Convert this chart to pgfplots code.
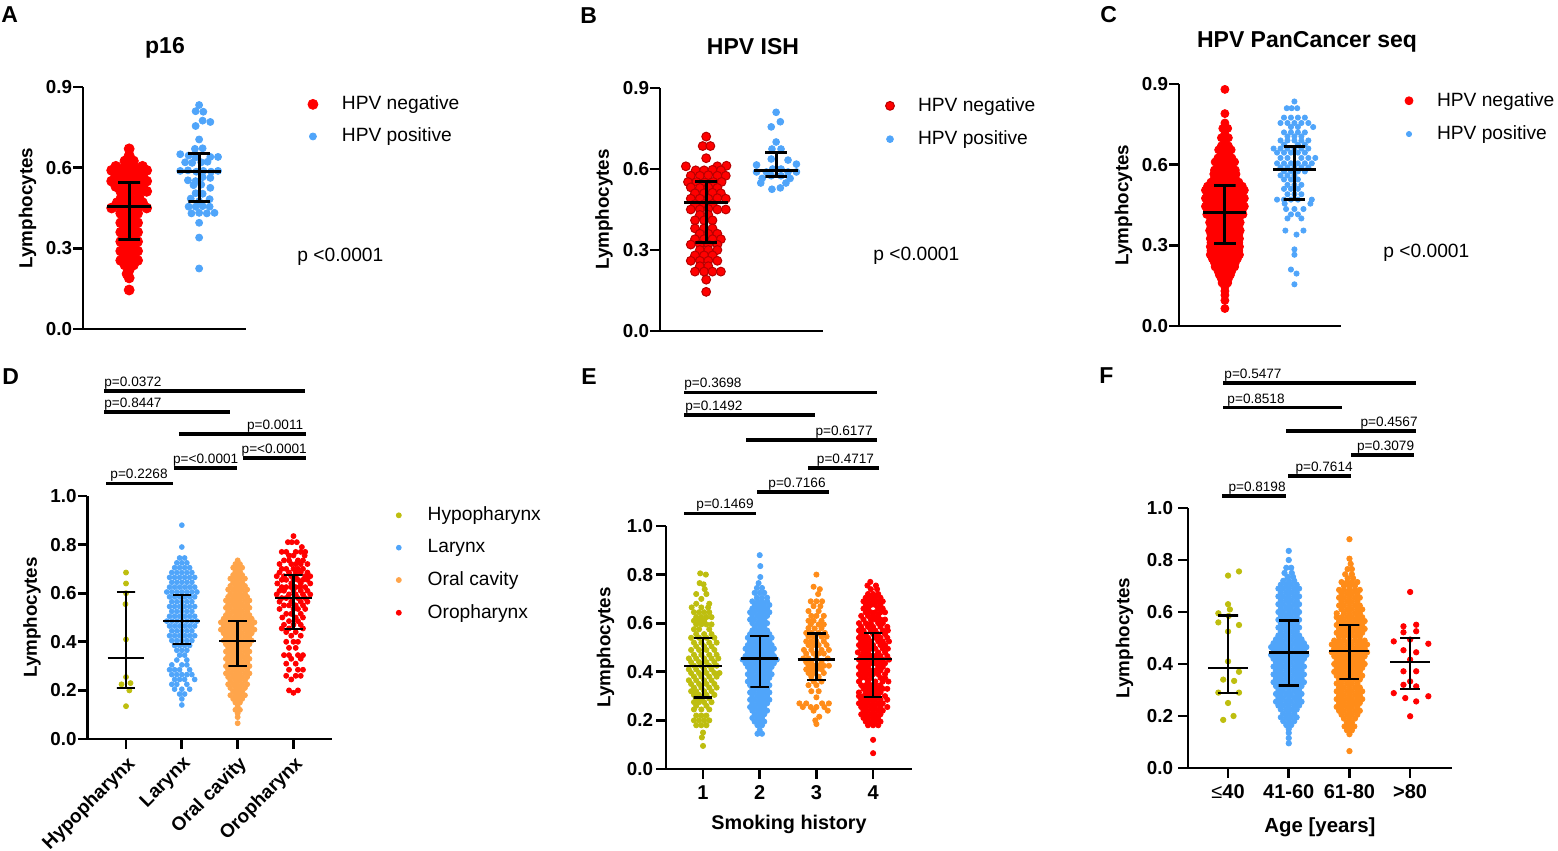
\documentclass[border=0pt]{standalone}
\usepackage{fontspec}
\setmainfont{Liberation Sans}
\usepackage{pgfplots}
\pgfplotsset{compat=1.18}
\definecolor{gpred}{RGB}{255,0,0}
\definecolor{gpblue}{RGB}{80,165,250}
\definecolor{gpolive}{RGB}{190,190,15}
\definecolor{gporange}{RGB}{255,140,25}
\definecolor{gporangeL}{RGB}{255,165,75}
\newcommand{\fs}[1]{\fontsize{#1}{#1}\selectfont}
\pgfplotsset{
 gp/.style={
  scale only axis, clip=false, clip marker paths=true,
  axis x line*=bottom, axis y line*=left,
  axis line style={-, line width=1.35pt},
  tick style={line width=1.35pt, black},
  tick align=outside, major tick length=4.8pt,
  ymin=0,
  yticklabel style={font=\bfseries\fs{9.4}, inner sep=0.5pt},
  xticklabel style={font=\bfseries\fs{9.5}},
  ylabel={Lymphocytes},
  every axis y label/.style={rotate=90, anchor=center, font=\bfseries\fs{9.4}},
  legend style={draw=none, fill=none, inner sep=0pt, outer sep=0pt, font=\fs{9.6}, column sep=12pt, row sep=7pt, nodes={inner sep=0pt}},
  legend cell align=left,
  legend image code/.code={\draw[##1] plot coordinates {(0pt,0pt)};},
 },
 eb/.style={black, line width=1.5pt, forget plot, mark=none},
 ebt/.style={black, line width=1.2pt, forget plot, mark=none},
 sig/.style={black, line width=1.6pt, forget plot, mark=none},
 sc/.style={only marks, mark=*, mark options={draw=none}},
}
\tikzset{pt/.style={inner sep=0pt, font=\fs{6.8}, yshift=0.8pt}}
\begin{document}
\begin{tikzpicture}
\path[use as bounding box] (0,0) rectangle (779pt,425.5pt);
% ---------------- A ----------------
\begin{axis}[gp, at={(41.5pt,261pt)}, anchor=south west, width=81.5pt, height=121pt,
 xmin=0.34, xmax=2.67, ymax=0.9, xtick=\empty, ytick={0,0.3,0.6,0.9}, yticklabels={0.0,0.3,0.6,0.9},
 ylabel style={at={(axis description cs:-0.3405,0.5)}},
 legend style={at={(1.38,0.862)}, anchor=west, column sep=12pt, row sep=7.6pt}]
\addplot[sc, color=gpred, mark size=2.5pt] coordinates {(1,.67)(1,.645)(.94,.625)(1.06,.625)(.81,.605)(.94,.605)(1.06,.605)(1.19,.605)(.75,.59)(.88,.59)(1,.59)(1.12,.59)(1.25,.59)(.81,.57)(.94,.57)(1.06,.57)(1.19,.57)(.75,.55)(.88,.55)(1,.55)(1.12,.55)(1.25,.55)(.81,.53)(.94,.53)(1.06,.53)(1.19,.53)(.88,.512)(1,.512)(1.12,.512)(1.25,.512)(.89,.49)(1.01,.49)(1.14,.49)(.83,.47)(.95,.47)(1.07,.47)(1.19,.47)(.75,.45)(.88,.45)(1,.45)(1.12,.45)(1.25,.45)(.88,.43)(1,.43)(1.12,.43)(.94,.412)(1.06,.412)(.88,.395)(1,.395)(1.12,.395)(.94,.378)(1.06,.378)(.88,.36)(1,.36)(1.12,.36)(.94,.342)(1.06,.342)(.88,.325)(1,.325)(1.12,.325)(.94,.308)(1.06,.308)(.88,.29)(1,.29)(1.12,.29)(.94,.272)(1.06,.272)(.88,.255)(1,.255)(1.12,.255)(.94,.238)(1.06,.238)(1,.22)(.97,.205)(1,.19)(1,.145)};
\addlegendentry{HPV negative}
\addplot[sc, color=gpblue, mark size=1.75pt] coordinates {(2,.833)(1.95,.81)(2.06,.808)(2.05,.775)(2.16,.77)(1.95,.755)(2,.705)(1.94,.67)(2.05,.672)(1.73,.65)(1.85,.645)(1.95,.638)(2.16,.64)(2.27,.64)(1.8,.62)(1.9,.618)(2.03,.62)(2.12,.622)(1.73,.588)(1.84,.59)(1.96,.585)(2.06,.588)(2.17,.585)(2.27,.588)(2.05,.565)(2.16,.562)(1.84,.553)(1.95,.55)(1.92,.535)(2.03,.537)(2.16,.525)(1.95,.505)(2.05,.503)(1.88,.485)(2.15,.483)(2,.475)(1.85,.455)(1.95,.455)(2.05,.457)(2.15,.455)(1.89,.43)(2,.432)(2.11,.43)(2.22,.432)(2,.395)(2,.34)(2,.225)};
\addlegendentry{HPV positive}
\addplot[eb] coordinates {(.69,.456)(1.31,.456)};
\addplot[eb] coordinates {(.845,.544)(1.155,.544)(1,.544)(1,.333)(.845,.333)(1.155,.333)};
\addplot[eb] coordinates {(1.69,.585)(2.31,.585)};
\addplot[eb] coordinates {(1.845,.652)(2.155,.652)(2,.652)(2,.474)(1.845,.474)(2.155,.474)};
\end{axis}
% ---------------- B ----------------
\begin{axis}[gp, at={(330pt,260pt)}, anchor=south west, width=81.5pt, height=121.5pt,
 xmin=0.34, xmax=2.67, ymax=0.9, xtick=\empty, ytick={0,0.3,0.6,0.9}, yticklabels={0.0,0.3,0.6,0.9},
 ylabel style={at={(axis description cs:-0.3436,0.5)}},
 legend style={at={(1.384,0.858)}, anchor=west, column sep=11.8pt, row sep=8.2pt}]
\addplot[only marks, mark=*, mark size=2.2pt, color=gpred, mark options={fill=gpred, draw=red!72!black, line width=0.5pt}] coordinates {(1,.72)(.95,.685)(1.06,.685)(1,.64)(.71,.61)(1.16,.61)(1.29,.612)(.85,.595)(.97,.595)(1.09,.597)(1.21,.595)(.78,.575)(.91,.575)(1.03,.577)(1.16,.575)(1.28,.575)(.74,.552)(.86,.552)(.98,.55)(1.1,.552)(1.22,.552)(.78,.532)(.91,.53)(1.03,.532)(1.16,.53)(.84,.51)(.97,.51)(1.09,.512)(1.21,.51)(.78,.49)(.91,.49)(1.03,.49)(1.16,.492)(1.28,.49)(.84,.47)(.97,.47)(1.09,.47)(.78,.45)(.91,.45)(1.03,.452)(1.16,.45)(1.28,.45)(.91,.43)(1.03,.43)(.84,.41)(.97,.41)(1.09,.41)(.84,.38)(.97,.38)(1.09,.38)(.91,.36)(1.03,.36)(1.16,.36)(.84,.34)(.97,.34)(1.09,.34)(1.21,.34)(.78,.32)(.91,.32)(1.03,.32)(1.16,.32)(.91,.30)(1.03,.30)(1.16,.30)(.84,.28)(.97,.28)(1.09,.28)(.78,.26)(.91,.26)(1.03,.26)(1.16,.26)(.91,.24)(1.03,.24)(.84,.22)(.97,.22)(1.09,.22)(1.21,.22)(1,.19)(1,.145)};
\addlegendentry{HPV negative}
\addplot[sc, color=gpblue, mark size=1.7pt] coordinates {(2,.81)(2.06,.775)(1.93,.756)(2,.70)(1.94,.674)(2.07,.674)(1.93,.637)(2.17,.633)(1.72,.615)(2.29,.618)(1.72,.589)(1.86,.589)(2.17,.589)(2.29,.589)(1.95,.60)(2.07,.60)(1.93,.575)(2.07,.575)(1.8,.565)(2.2,.565)(1.78,.548)(2.14,.548)(1.94,.525)(2.06,.53)};
\addlegendentry{HPV positive}
\addplot[eb] coordinates {(.69,.476)(1.31,.476)};
\addplot[eb] coordinates {(.845,.553)(1.155,.553)(1,.553)(1,.328)(.845,.328)(1.155,.328)};
\addplot[eb] coordinates {(1.69,.594)(2.31,.594)};
\addplot[eb] coordinates {(1.845,.66)(2.155,.66)(2,.66)(2,.572)(1.845,.572)(2.155,.572)};
\end{axis}
% ---------------- C ----------------
\begin{axis}[gp, at={(589.5pt,262.5pt)}, anchor=south west, width=81pt, height=121pt,
 xmin=0.34, xmax=2.67, ymax=0.9, xtick=\empty, ytick={0,0.3,0.6,0.9}, yticklabels={0.0,0.3,0.6,0.9},
 ylabel style={at={(axis description cs:-0.3426,0.5)}},
 legend style={at={(1.395,0.862)}, anchor=west, column sep=12pt, row sep=8.2pt}]
\addplot[sc, color=gpred, mark size=2pt] coordinates {(1,.88)(1,.79)(1,.755)(.97,.735)(1.04,.735)(1,.715)(.95,.70)(1.05,.70)(1,.685)(.95,.67)(1.05,.67)(.91,.655)(1,.655)(1.09,.655)(.95,.64)(1.05,.64)(.9,.625)(1,.625)(1.1,.625)(.86,.61)(.95,.61)(1.05,.61)(1.14,.61)(.9,.595)(1,.595)(1.1,.595)(.85,.58)(.95,.58)(1.05,.58)(1.15,.58)(.84,.565)(.92,.565)(1,.565)(1.08,.565)(1.16,.565)(.85,.55)(.95,.55)(1.05,.55)(1.15,.55)(.8,.535)(.9,.535)(1,.535)(1.1,.535)(1.2,.535)(.75,.52)(.85,.52)(.95,.52)(1.05,.52)(1.15,.52)(1.25,.52)(.72,.505)(.81,.505)(.9,.505)(1,.505)(1.1,.505)(1.19,.505)(1.28,.505)(.75,.49)(.85,.49)(.95,.49)(1.05,.49)(1.15,.49)(1.25,.49)(.72,.475)(.81,.475)(.9,.475)(1,.475)(1.1,.475)(1.19,.475)(1.28,.475)(.75,.46)(.85,.46)(.95,.46)(1.05,.46)(1.15,.46)(1.25,.46)(.72,.445)(.81,.445)(.9,.445)(1,.445)(1.1,.445)(1.19,.445)(1.28,.445)(.75,.43)(.85,.43)(.95,.43)(1.05,.43)(1.15,.43)(1.25,.43)(.74,.415)(.83,.415)(.91,.415)(1,.415)(1.09,.415)(1.17,.415)(1.26,.415)(.8,.40)(.9,.40)(1,.40)(1.1,.40)(1.2,.40)(.78,.385)(.87,.385)(.95,.385)(1.05,.385)(1.13,.385)(1.22,.385)(.8,.37)(.9,.37)(1,.37)(1.1,.37)(1.2,.37)(.78,.355)(.87,.355)(.95,.355)(1.05,.355)(1.13,.355)(1.22,.355)(.8,.34)(.9,.34)(1,.34)(1.1,.34)(1.2,.34)(.79,.325)(.87,.325)(.95,.325)(1.05,.325)(1.13,.325)(1.21,.325)(.8,.31)(.9,.31)(1,.31)(1.1,.31)(1.2,.31)(.79,.295)(.87,.295)(.95,.295)(1.05,.295)(1.13,.295)(1.21,.295)(.8,.28)(.9,.28)(1,.28)(1.1,.28)(1.2,.28)(.79,.265)(.87,.265)(.95,.265)(1.05,.265)(1.13,.265)(1.21,.265)(.82,.25)(.91,.25)(1,.25)(1.09,.25)(1.18,.25)(.85,.235)(.95,.235)(1.05,.235)(1.15,.235)(.86,.22)(.95,.22)(1.05,.22)(1.14,.22)(.9,.205)(1,.205)(1.1,.205)(.92,.19)(1,.19)(1.08,.19)(.95,.175)(1.05,.175)(.96,.16)(1.04,.16)(1,.145)(1,.13)(1,.115)(1,.095)(1,.065)};
\addlegendentry{HPV negative}
\addplot[sc, color=gpblue, mark size=1.3pt] coordinates {(2,.835)(1.89,.81)(1.96,.81)(2.04,.81)(1.85,.775)(1.95,.775)(2.05,.775)(2.15,.775)(1.8,.755)(1.9,.755)(2,.755)(2.1,.755)(2.2,.755)(1.95,.74)(2.05,.74)(2.27,.74)(1.85,.72)(1.95,.72)(2.05,.72)(2.15,.72)(1.9,.705)(2,.705)(2.1,.705)(1.8,.69)(1.9,.69)(2,.69)(2.1,.69)(2.2,.69)(1.85,.675)(2.05,.675)(2.15,.675)(1.7,.66)(1.8,.66)(1.9,.66)(2,.66)(2.1,.66)(2.2,.66)(1.75,.645)(1.85,.645)(1.95,.645)(2.05,.645)(2.15,.645)(1.8,.625)(1.9,.625)(2.1,.625)(2.2,.625)(2.3,.625)(1.75,.605)(1.85,.605)(1.95,.605)(2.05,.605)(2.15,.605)(2.25,.605)(1.8,.59)(1.9,.59)(2,.59)(2.1,.59)(2.2,.59)(1.85,.575)(1.95,.575)(2.05,.575)(2.15,.575)(1.8,.56)(1.9,.56)(2,.56)(1.85,.545)(1.95,.545)(2.05,.545)(1.9,.525)(2,.525)(2.1,.525)(1.85,.51)(1.95,.51)(2.05,.51)(1.9,.49)(2,.49)(2.1,.49)(1.75,.47)(1.85,.47)(1.95,.47)(2.05,.47)(2.25,.47)(1.86,.455)(2.23,.455)(1.88,.435)(2,.435)(2.13,.435)(1.95,.415)(2.05,.415)(1.9,.40)(2.1,.40)(1.87,.355)(2.13,.355)(2.03,.34)(2,.285)(2,.265)(1.95,.21)(2.03,.195)(2,.155)};
\addlegendentry{HPV positive}
\addplot[eb] coordinates {(.69,.422)(1.31,.422)};
\addplot[eb] coordinates {(.845,.522)(1.155,.522)(1,.522)(1,.307)(.845,.307)(1.155,.307)};
\addplot[eb] coordinates {(1.69,.581)(2.31,.581)};
\addplot[eb] coordinates {(1.845,.667)(2.155,.667)(2,.667)(2,.47)(1.845,.47)(2.155,.47)};
\end{axis}
% ---------------- D ----------------
\begin{axis}[gp, at={(43.75pt,56pt)}, anchor=south west, width=122.25pt, height=121.5pt,
 xmin=0.31, xmax=4.69, ymax=1, xtick={1,2,3,4}, xticklabels={Hypopharynx,Larynx,Oral cavity,Oropharynx},
 xticklabel style={rotate=45, anchor=north east, inner sep=2pt},
 ytick={0,0.2,0.4,0.6,0.8,1}, yticklabels={0.0,0.2,0.4,0.6,0.8,1.0},
 ylabel style={at={(axis description cs:-0.227,0.5)}},
 legend style={at={(1.263,0.720)}, anchor=west, column sep=13.2pt, row sep=7.9pt}]
\addplot[sc, color=gpolive, mark size=1.25pt] coordinates {(1,.685)(1,.64)(1,.60)(.99,.555)(1,.41)(1,.255)(.92,.225)(1.08,.23)(1.06,.20)(1,.135)};
\addlegendentry{Hypopharynx}
\addplot[sc, color=gpblue, mark size=1.2pt] coordinates {(2,.88)(2,.79)(1.96,.745)(2.05,.745)(1.91,.725)(2,.725)(2.09,.725)(1.87,.705)(1.96,.705)(2.05,.705)(2.14,.705)(1.82,.685)(1.91,.685)(2,.685)(2.09,.685)(2.18,.685)(1.78,.665)(1.87,.665)(1.96,.665)(2.05,.665)(2.14,.665)(2.23,.665)(1.82,.645)(1.91,.645)(2,.645)(2.09,.645)(2.18,.645)(1.78,.625)(1.87,.625)(1.96,.625)(2.05,.625)(2.14,.625)(2.23,.625)(1.73,.605)(1.82,.605)(1.91,.605)(2,.605)(2.09,.605)(2.18,.605)(2.27,.605)(1.78,.585)(1.87,.585)(1.96,.585)(2.05,.585)(2.14,.585)(2.23,.585)(1.82,.565)(1.91,.565)(2,.565)(2.09,.565)(2.18,.565)(1.78,.545)(1.87,.545)(1.96,.545)(2.05,.545)(2.14,.545)(2.23,.545)(1.82,.525)(1.91,.525)(2,.525)(2.09,.525)(2.18,.525)(1.78,.505)(1.87,.505)(1.96,.505)(2.05,.505)(2.14,.505)(2.23,.505)(1.73,.485)(1.82,.485)(1.91,.485)(2,.485)(2.09,.485)(2.18,.485)(2.27,.485)(1.78,.465)(1.87,.465)(1.96,.465)(2.05,.465)(2.14,.465)(2.23,.465)(1.82,.445)(1.91,.445)(2,.445)(2.09,.445)(2.18,.445)(1.78,.425)(1.87,.425)(1.96,.425)(2.05,.425)(2.14,.425)(2.23,.425)(1.82,.405)(1.91,.405)(2,.405)(2.09,.405)(2.18,.405)(1.87,.385)(1.96,.385)(2.05,.385)(2.14,.385)(1.91,.365)(2,.365)(2.09,.365)(1.96,.345)(2.05,.345)(1.91,.325)(2.09,.325)(1.82,.305)(2,.305)(2.09,.305)(1.78,.285)(1.87,.285)(1.96,.285)(2.14,.285)(1.82,.265)(1.91,.265)(2,.265)(2.09,.265)(2.18,.265)(1.87,.245)(1.96,.245)(2.05,.245)(2.23,.245)(1.82,.225)(1.91,.225)(2.09,.225)(1.87,.205)(2,.205)(2.14,.205)(1.96,.185)(2.05,.185)(2,.165)(2,.14)};
\addlegendentry{Larynx}
\addplot[sc, color=gporangeL, mark size=1.25pt] coordinates {(3,.735)(2.96,.72)(3.04,.72)(2.92,.705)(3,.705)(3.08,.705)(2.96,.69)(3.04,.69)(2.92,.675)(3,.675)(3.08,.675)(2.87,.66)(2.96,.66)(3.04,.66)(3.13,.66)(2.92,.645)(3,.645)(3.08,.645)(2.87,.63)(2.96,.63)(3.04,.63)(3.13,.63)(2.83,.615)(2.92,.615)(3,.615)(3.08,.615)(3.17,.615)(2.87,.60)(2.96,.60)(3.04,.60)(3.13,.60)(2.83,.585)(2.92,.585)(3,.585)(3.08,.585)(3.17,.585)(2.79,.57)(2.87,.57)(2.96,.57)(3.04,.57)(3.13,.57)(3.21,.57)(2.83,.555)(2.92,.555)(3,.555)(3.08,.555)(3.17,.555)(2.79,.54)(2.87,.54)(2.96,.54)(3.04,.54)(3.13,.54)(3.21,.54)(2.83,.525)(2.92,.525)(3,.525)(3.08,.525)(3.17,.525)(2.79,.51)(2.87,.51)(2.96,.51)(3.04,.51)(3.13,.51)(3.21,.51)(2.75,.495)(2.83,.495)(2.92,.495)(3,.495)(3.08,.495)(3.17,.495)(3.25,.495)(2.7,.48)(2.79,.48)(2.87,.48)(2.96,.48)(3.04,.48)(3.13,.48)(3.21,.48)(3.3,.48)(2.75,.465)(2.83,.465)(2.92,.465)(3,.465)(3.08,.465)(3.17,.465)(3.25,.465)(2.7,.45)(2.79,.45)(2.87,.45)(2.96,.45)(3.04,.45)(3.13,.45)(3.21,.45)(3.3,.45)(2.75,.435)(2.83,.435)(2.92,.435)(3,.435)(3.08,.435)(3.17,.435)(3.25,.435)(2.79,.42)(2.87,.42)(2.96,.42)(3.04,.42)(3.13,.42)(3.21,.42)(2.75,.405)(2.83,.405)(2.92,.405)(3,.405)(3.08,.405)(3.17,.405)(3.25,.405)(2.79,.39)(2.87,.39)(2.96,.39)(3.04,.39)(3.13,.39)(3.21,.39)(2.83,.375)(2.92,.375)(3,.375)(3.08,.375)(3.17,.375)(2.79,.36)(2.87,.36)(2.96,.36)(3.04,.36)(3.13,.36)(3.21,.36)(2.83,.345)(2.92,.345)(3,.345)(3.08,.345)(3.17,.345)(2.79,.33)(2.87,.33)(2.96,.33)(3.04,.33)(3.13,.33)(3.21,.33)(2.83,.315)(2.92,.315)(3,.315)(3.08,.315)(3.17,.315)(2.79,.30)(2.87,.30)(2.96,.30)(3.04,.30)(3.13,.30)(3.21,.30)(2.83,.285)(2.92,.285)(3,.285)(3.08,.285)(3.17,.285)(2.79,.27)(2.87,.27)(2.96,.27)(3.04,.27)(3.13,.27)(3.21,.27)(2.83,.255)(2.92,.255)(3,.255)(3.08,.255)(3.17,.255)(2.87,.24)(2.96,.24)(3.04,.24)(3.13,.24)(2.83,.225)(2.92,.225)(3,.225)(3.08,.225)(3.17,.225)(2.87,.21)(2.96,.21)(3.04,.21)(3.13,.21)(2.92,.195)(3,.195)(3.08,.195)(2.87,.18)(2.96,.18)(3.04,.18)(3.13,.18)(2.92,.165)(3,.165)(3.08,.165)(2.96,.15)(3.04,.15)(3,.135)(2.96,.12)(3.04,.12)(3,.105)(3,.09)(3,.065)};
\addlegendentry{Oral cavity}
\addplot[sc, color=gpred, mark size=1.25pt] coordinates {(4,.835)(3.9,.81)(3.97,.81)(4.06,.81)(4.15,.79)(3.79,.77)(3.87,.77)(4.04,.77)(4.13,.77)(4.21,.77)(3.92,.755)(4,.755)(4.2,.755)(3.83,.735)(3.92,.735)(4.08,.735)(4.17,.735)(3.75,.72)(3.96,.72)(4.04,.72)(4.13,.72)(4.25,.72)(3.79,.70)(3.87,.70)(4,.70)(4.08,.70)(4.17,.70)(3.75,.685)(3.92,.685)(4.04,.685)(4.13,.685)(4.25,.685)(3.7,.67)(3.83,.67)(3.96,.67)(4.04,.67)(4.21,.67)(4.3,.67)(3.79,.655)(3.87,.655)(4,.655)(4.08,.655)(4.17,.655)(4.25,.655)(3.71,.64)(3.96,.64)(4.13,.64)(4.3,.64)(3.79,.625)(3.87,.625)(3.96,.625)(4.04,.625)(4.12,.625)(4.21,.625)(3.75,.61)(3.83,.61)(4,.61)(4.13,.61)(4.25,.61)(3.7,.595)(3.92,.595)(4.04,.595)(4.17,.595)(4.3,.595)(3.79,.58)(3.87,.58)(4.08,.58)(4.21,.58)(3.75,.565)(3.96,.565)(4.13,.565)(4.25,.565)(3.83,.55)(3.92,.55)(4.04,.55)(4.17,.55)(3.75,.535)(4,.535)(4.08,.535)(4.21,.535)(3.87,.515)(3.96,.515)(4.13,.515)(3.8,.50)(4.04,.50)(4.17,.50)(3.92,.485)(4.08,.485)(3.83,.47)(4,.47)(4.13,.47)(3.79,.455)(3.92,.455)(4.17,.455)(3.87,.44)(4.04,.44)(3.96,.425)(4.13,.425)(3.87,.40)(4,.40)(4.08,.40)(3.92,.375)(4.04,.375)(3.83,.345)(3.92,.345)(4.08,.345)(4.17,.345)(3.96,.33)(4.13,.33)(3.87,.31)(4.04,.31)(3.92,.285)(4.08,.285)(4.17,.285)(3.87,.26)(4.04,.26)(4.13,.26)(3.96,.245)(3.92,.20)(4.08,.20)(4,.19)};
\addlegendentry{Oropharynx}
\addplot[ebt] coordinates {(.67,.333)(1.33,.333)};
\addplot[ebt] coordinates {(.835,.605)(1.165,.605)(1,.605)(1,.21)(.835,.21)(1.165,.21)};
\addplot[ebt] coordinates {(1.67,.486)(2.33,.486)};
\addplot[ebt] coordinates {(1.835,.593)(2.165,.593)(2,.593)(2,.391)(1.835,.391)(2.165,.391)};
\addplot[ebt] coordinates {(2.67,.403)(3.33,.403)};
\addplot[ebt] coordinates {(2.835,.486)(3.165,.486)(3,.486)(3,.30)(2.835,.30)(3.165,.30)};
\addplot[ebt] coordinates {(3.67,.58)(4.33,.58)};
\addplot[ebt] coordinates {(3.835,.675)(4.165,.675)(4,.675)(4,.453)(3.835,.453)(4.165,.453)};
\addplot[sig] coordinates {(0.606,1.432)(4.202,1.432)};
\node[pt, anchor=south west] at (axis cs:0.606,1.432) {p=0.0372};
\addplot[sig] coordinates {(0.606,1.346)(2.86,1.346)};
\node[pt, anchor=south west] at (axis cs:0.606,1.346) {p=0.8447};
\addplot[sig] coordinates {(1.948,1.255)(4.22,1.255)};
\node[pt, anchor=south east] at (axis cs:4.18,1.255) {p=0.0011};
\addplot[sig] coordinates {(3.09,1.156)(4.22,1.156)};
\node[pt, anchor=south] at (axis cs:3.655,1.156) {p=<0.0001};
\addplot[sig] coordinates {(1.859,1.115)(2.995,1.115)};
\node[pt, anchor=south] at (axis cs:2.427,1.115) {p=<0.0001};
\addplot[sig] coordinates {(0.642,1.053)(1.841,1.053)};
\node[pt, anchor=south] at (axis cs:1.233,1.053) {p=0.2268};
\end{axis}
% ---------------- E ----------------
\begin{axis}[gp, at={(333pt,41pt)}, anchor=south west, width=123pt, height=121.5pt,
 xmin=0.347, xmax=4.686, ymax=1, xtick={1,2,3,4}, xticklabels={1,2,3,4},
 xticklabel style={font=\bfseries\fs{10}},
 ytick={0,0.2,0.4,0.6,0.8,1}, yticklabels={0.0,0.2,0.4,0.6,0.8,1.0},
 yticklabel style={inner sep=1.5pt},
 ylabel style={at={(axis description cs:-0.246,0.5)}},
 xlabel={Smoking history},
 every axis x label/.style={at={(axis description cs:0.5,0)}, anchor=center, yshift=-27.5pt, font=\bfseries\fs{9.9}}]
\addplot[sc, color=gpolive, mark size=1.3pt] coordinates {(.95,.805)(1.05,.80)(.94,.765)(1.01,.76)(1.03,.74)(.88,.72)(1.06,.72)(.97,.70)(.88,.68)(1.11,.68)(.8,.665)(.97,.665)(1.09,.665)(.84,.645)(.93,.645)(1.02,.645)(1.11,.645)(.88,.625)(.97,.625)(1.06,.625)(1.15,.625)(.84,.61)(.93,.61)(1.02,.61)(.88,.595)(.97,.595)(1.06,.595)(1.15,.595)(.84,.575)(.93,.575)(1.11,.575)(.88,.555)(1.02,.555)(1.15,.555)(.79,.54)(.93,.54)(1.06,.54)(1.2,.54)(.84,.52)(.97,.52)(1.11,.52)(1.24,.52)(.88,.505)(1.02,.505)(1.15,.505)(.79,.49)(.93,.49)(1.06,.49)(1.2,.49)(.84,.47)(.97,.47)(1.11,.47)(1.24,.47)(.75,.455)(.88,.455)(1.02,.455)(1.15,.455)(1.27,.455)(.79,.44)(.93,.44)(1.06,.44)(1.2,.44)(.84,.425)(.97,.425)(1.11,.425)(1.24,.425)(.75,.41)(.88,.41)(1.02,.41)(1.15,.41)(.79,.395)(.93,.395)(1.06,.395)(1.2,.395)(1.29,.395)(.84,.38)(.97,.38)(1.11,.38)(1.24,.38)(.75,.365)(.88,.365)(1.02,.365)(1.15,.365)(.79,.35)(.93,.35)(1.06,.35)(1.2,.35)(.84,.335)(.97,.335)(1.11,.335)(1.24,.335)(.79,.32)(.88,.32)(1.02,.32)(1.15,.32)(.84,.305)(.93,.305)(1.06,.305)(1.2,.305)(.88,.29)(.97,.29)(1.11,.29)(.84,.275)(.93,.275)(1.02,.275)(1.15,.275)(.88,.26)(1.06,.26)(.84,.245)(.97,.245)(1.11,.245)(.88,.22)(.97,.22)(1.06,.22)(.84,.2)(.93,.2)(1.02,.2)(1.11,.2)(.88,.18)(.97,.18)(1.06,.18)(1,.15)(.98,.13)(1,.095)};
\addplot[sc, color=gpblue, mark size=1.3pt] coordinates {(2,.88)(2.01,.835)(2.01,.79)(1.98,.765)(1.95,.745)(2.04,.745)(1.91,.725)(2,.725)(2.08,.725)(1.95,.705)(2.04,.705)(2.13,.705)(1.87,.69)(1.96,.69)(2.04,.69)(2.13,.69)(1.91,.675)(2,.675)(2.08,.675)(2.17,.675)(1.87,.66)(1.96,.66)(2.04,.66)(2.13,.66)(1.83,.645)(1.91,.645)(2,.645)(2.08,.645)(2.17,.645)(1.87,.63)(1.96,.63)(2.04,.63)(2.13,.63)(1.83,.615)(1.91,.615)(2,.615)(2.08,.615)(1.87,.60)(1.96,.60)(2.04,.60)(2.13,.60)(1.91,.585)(2,.585)(2.08,.585)(1.87,.57)(1.96,.57)(2.04,.57)(2.13,.57)(1.83,.555)(1.91,.555)(2,.555)(2.08,.555)(2.17,.555)(1.79,.54)(1.87,.54)(1.96,.54)(2.04,.54)(2.13,.54)(2.21,.54)(1.83,.525)(1.91,.525)(2,.525)(2.08,.525)(2.17,.525)(1.79,.51)(1.87,.51)(1.96,.51)(2.04,.51)(2.13,.51)(2.21,.51)(1.75,.495)(1.83,.495)(1.91,.495)(2,.495)(2.08,.495)(2.17,.495)(2.25,.495)(1.79,.48)(1.87,.48)(1.96,.48)(2.04,.48)(2.13,.48)(2.21,.48)(1.75,.465)(1.83,.465)(1.91,.465)(2,.465)(2.08,.465)(2.17,.465)(2.25,.465)(1.7,.45)(1.79,.45)(1.87,.45)(1.96,.45)(2.04,.45)(2.13,.45)(2.21,.45)(2.3,.45)(1.75,.435)(1.83,.435)(1.91,.435)(2,.435)(2.08,.435)(2.17,.435)(2.25,.435)(1.79,.42)(1.87,.42)(1.96,.42)(2.04,.42)(2.13,.42)(2.21,.42)(1.83,.405)(1.91,.405)(2,.405)(2.08,.405)(2.17,.405)(1.79,.39)(1.87,.39)(1.96,.39)(2.04,.39)(2.13,.39)(2.21,.39)(1.83,.375)(1.91,.375)(2,.375)(2.08,.375)(2.17,.375)(1.79,.36)(1.87,.36)(1.96,.36)(2.04,.36)(2.13,.36)(1.83,.345)(1.91,.345)(2,.345)(2.08,.345)(2.17,.345)(1.87,.33)(1.96,.33)(2.04,.33)(2.13,.33)(1.83,.315)(1.91,.315)(2,.315)(2.08,.315)(2.17,.315)(1.87,.30)(1.96,.30)(2.04,.30)(2.13,.30)(1.83,.285)(1.91,.285)(2,.285)(2.08,.285)(2.17,.285)(1.87,.27)(1.96,.27)(2.04,.27)(2.13,.27)(1.83,.255)(1.91,.255)(2,.255)(2.08,.255)(1.87,.24)(1.96,.24)(2.04,.24)(2.13,.24)(1.91,.225)(2,.225)(2.08,.225)(1.87,.21)(1.96,.21)(2.04,.21)(1.91,.195)(2,.195)(2.08,.195)(1.96,.18)(2.04,.18)(2,.16)(1.96,.145)(2.04,.145)};
\addplot[sc, color=gporange, mark size=1.3pt] coordinates {(3,.80)(2.95,.75)(3.06,.74)(3.03,.72)(2.9,.69)(3,.69)(3.1,.69)(2.95,.67)(3.07,.67)(2.86,.65)(3.04,.65)(2.91,.63)(3,.63)(3.13,.63)(2.86,.61)(2.95,.61)(3.09,.61)(2.9,.595)(3.04,.595)(3.13,.595)(2.86,.58)(2.97,.578)(3.09,.58)(2.82,.56)(2.91,.56)(3.04,.56)(3.15,.56)(2.86,.545)(2.95,.545)(3.09,.545)(3.18,.545)(2.82,.525)(2.91,.525)(3,.525)(3.13,.525)(2.86,.51)(2.95,.51)(3.04,.51)(3.18,.51)(2.78,.49)(2.91,.49)(3.09,.49)(3.22,.49)(2.82,.475)(2.95,.475)(3.04,.475)(3.13,.475)(2.77,.455)(2.86,.455)(3,.455)(3.2,.455)(2.82,.44)(2.91,.44)(3.09,.44)(2.86,.425)(2.95,.425)(3.04,.425)(3.13,.425)(3.22,.425)(2.82,.41)(2.91,.41)(3,.41)(3.09,.41)(2.86,.395)(2.95,.395)(3.13,.395)(2.91,.38)(3.04,.38)(2.95,.36)(3.09,.36)(2.86,.345)(3,.345)(2.91,.32)(3.04,.32)(3,.295)(2.7,.27)(2.82,.27)(3.1,.27)(3.22,.27)(2.76,.255)(2.9,.255)(3,.255)(3.14,.255)(2.95,.24)(3.2,.24)(3.05,.215)(2.98,.20)(3,.185)};
\addplot[sc, color=gpred, mark size=1.3pt] coordinates {(3.95,.77)(3.9,.755)(4.05,.755)(3.96,.74)(4.07,.74)(3.91,.72)(4,.72)(4.09,.72)(3.87,.705)(3.96,.705)(4.04,.705)(4.13,.705)(3.83,.69)(3.91,.69)(4,.69)(4.09,.69)(4.17,.69)(3.87,.675)(3.96,.675)(4.04,.675)(4.13,.675)(3.83,.66)(3.91,.66)(4.09,.66)(4.17,.66)(3.87,.645)(3.96,.645)(4.04,.645)(4.13,.645)(4.21,.645)(3.79,.63)(3.91,.63)(4,.63)(4.09,.63)(3.83,.615)(3.96,.615)(4.04,.615)(4.13,.615)(4.21,.615)(3.75,.60)(3.87,.60)(3.96,.60)(4.09,.60)(4.17,.60)(3.79,.585)(3.91,.585)(4,.585)(4.13,.585)(4.25,.585)(3.75,.57)(3.83,.57)(3.96,.57)(4.04,.57)(4.17,.57)(4.26,.57)(3.79,.555)(3.87,.555)(4,.555)(4.09,.555)(4.21,.555)(3.75,.54)(3.83,.54)(3.91,.54)(4.04,.54)(4.13,.54)(4.25,.54)(3.79,.525)(3.87,.525)(3.96,.525)(4.09,.525)(4.17,.525)(4.28,.525)(3.75,.51)(3.83,.51)(3.91,.51)(4,.51)(4.13,.51)(4.21,.51)(3.79,.495)(3.87,.495)(3.96,.495)(4.04,.495)(4.17,.495)(4.26,.495)(3.73,.48)(3.83,.48)(3.91,.48)(4.09,.48)(4.21,.48)(3.79,.465)(3.87,.465)(3.96,.465)(4.04,.465)(4.13,.465)(4.25,.465)(3.75,.45)(3.83,.45)(3.91,.45)(4,.45)(4.09,.45)(4.17,.45)(4.28,.45)(3.79,.435)(3.87,.435)(3.96,.435)(4.04,.435)(4.13,.435)(4.21,.435)(3.75,.42)(3.83,.42)(3.91,.42)(4.09,.42)(4.17,.42)(3.79,.405)(3.87,.405)(3.96,.405)(4.04,.405)(4.13,.405)(4.25,.405)(3.75,.39)(3.83,.39)(3.91,.39)(4,.39)(4.09,.39)(4.21,.39)(3.79,.375)(3.87,.375)(3.96,.375)(4.13,.375)(4.21,.375)(3.75,.36)(3.91,.36)(4.04,.36)(4.17,.36)(4.27,.36)(3.79,.345)(3.87,.345)(3.96,.345)(4.04,.345)(4.13,.345)(3.83,.33)(3.91,.33)(4,.33)(4.09,.33)(4.17,.33)(4.25,.33)(3.75,.315)(3.87,.315)(3.96,.315)(4.04,.315)(4.13,.315)(3.75,.30)(3.83,.30)(3.91,.30)(4,.30)(4.09,.30)(4.21,.30)(3.79,.285)(3.87,.285)(3.96,.285)(4.04,.285)(4.13,.285)(4.25,.285)(3.75,.27)(3.83,.27)(3.91,.27)(4,.27)(4.09,.27)(4.17,.27)(3.79,.255)(3.87,.255)(3.96,.255)(4.04,.255)(4.13,.255)(4.25,.255)(3.83,.24)(3.91,.24)(4,.24)(4.09,.24)(4.17,.24)(3.79,.225)(3.87,.225)(3.96,.225)(4.04,.225)(4.13,.225)(3.83,.21)(3.91,.21)(4,.21)(4.09,.21)(3.87,.195)(3.96,.195)(4.04,.195)(4.13,.195)(3.91,.18)(4,.18)(4.09,.18)(4,.12)(4,.065)};
\addplot[ebt] coordinates {(.67,.425)(1.33,.425)};
\addplot[ebt] coordinates {(.835,.54)(1.165,.54)(1,.54)(1,.295)(.835,.295)(1.165,.295)};
\addplot[ebt] coordinates {(1.67,.455)(2.33,.455)};
\addplot[ebt] coordinates {(1.835,.548)(2.165,.548)(2,.548)(2,.338)(1.835,.338)(2.165,.338)};
\addplot[ebt] coordinates {(2.67,.451)(3.33,.451)};
\addplot[ebt] coordinates {(2.835,.558)(3.165,.558)(3,.558)(3,.366)(2.835,.366)(3.165,.366)};
\addplot[ebt] coordinates {(3.67,.452)(4.33,.452)};
\addplot[ebt] coordinates {(3.835,.56)(4.165,.56)(4,.56)(4,.297)(3.835,.297)(4.165,.297)};
\addplot[sig] coordinates {(0.665,1.551)(4.069,1.551)};
\node[pt, anchor=south west] at (axis cs:0.665,1.551) {p=0.3698};
\addplot[sig] coordinates {(0.665,1.457)(2.975,1.457)};
\node[pt, anchor=south west] at (axis cs:0.68,1.457) {p=0.1492};
\addplot[sig] coordinates {(1.758,1.354)(4.069,1.354)};
\node[pt, anchor=south east] at (axis cs:3.998,1.354) {p=0.6177};
\addplot[sig] coordinates {(2.852,1.239)(4.104,1.239)};
\node[pt, anchor=south] at (axis cs:3.513,1.239) {p=0.4717};
\addplot[sig] coordinates {(1.952,1.14)(3.222,1.14)};
\node[pt, anchor=south] at (axis cs:2.658,1.14) {p=0.7166};
\addplot[sig] coordinates {(0.665,1.053)(1.935,1.053)};
\node[pt, anchor=south] at (axis cs:1.388,1.053) {p=0.1469};
\end{axis}
% ---------------- F ----------------
\begin{axis}[gp, at={(594pt,41.5pt)}, anchor=south west, width=132pt, height=130pt,
 xmin=0.34, xmax=4.69, ymax=1, xtick={1,2,3,4}, xticklabels={{\mdseries ≤}40,41-60,61-80,>80},
 xticklabel style={font=\bfseries\fs{10}},
 ytick={0,0.2,0.4,0.6,0.8,1}, yticklabels={0.0,0.2,0.4,0.6,0.8,1.0},
 yticklabel style={inner sep=2.5pt},
 ylabel style={at={(axis description cs:-0.2405,0.5)}},
 xlabel={Age [years]},
 every axis x label/.style={at={(axis description cs:0.5,0)}, anchor=center, yshift=-29.5pt, font=\bfseries\fs{10.2}}]
\addplot[sc, color=gpolive, mark size=1.35pt] coordinates {(1.18,.756)(1,.74)(1,.63)(1.03,.61)(.84,.595)(1.01,.585)(.84,.56)(1.18,.55)(1,.525)(1,.41)(1.18,.37)(.92,.34)(1.1,.335)(.84,.29)(1.18,.29)(1,.25)(1.09,.2)(.92,.185)};
\addplot[sc, color=gpblue, mark size=1.35pt] coordinates {(2,.835)(2,.80)(1.96,.77)(2.04,.77)(1.93,.75)(2.05,.75)(1.98,.735)(2.07,.735)(1.91,.72)(2,.72)(2.09,.72)(1.87,.705)(1.96,.705)(2.04,.705)(2.13,.705)(1.83,.69)(1.91,.69)(2,.69)(2.09,.69)(2.17,.69)(1.87,.675)(1.96,.675)(2.04,.675)(2.13,.675)(1.83,.66)(1.91,.66)(2,.66)(2.09,.66)(2.17,.66)(1.87,.645)(1.96,.645)(2.04,.645)(2.13,.645)(1.83,.63)(1.91,.63)(2,.63)(2.09,.63)(2.17,.63)(1.87,.615)(1.96,.615)(2.04,.615)(2.13,.615)(1.83,.60)(1.91,.60)(2,.60)(2.09,.60)(2.17,.60)(1.87,.585)(1.96,.585)(2.04,.585)(2.13,.585)(1.83,.57)(1.91,.57)(2,.57)(2.09,.57)(2.17,.57)(1.87,.555)(1.96,.555)(2.04,.555)(2.13,.555)(1.83,.54)(1.91,.54)(2,.54)(2.09,.54)(2.17,.54)(1.87,.525)(1.96,.525)(2.04,.525)(2.13,.525)(1.83,.51)(1.91,.51)(2,.51)(2.09,.51)(2.17,.51)(1.79,.495)(1.87,.495)(1.96,.495)(2.04,.495)(2.13,.495)(2.21,.495)(1.75,.48)(1.83,.48)(1.91,.48)(2,.48)(2.09,.48)(2.17,.48)(2.25,.48)(1.71,.465)(1.79,.465)(1.87,.465)(1.96,.465)(2.04,.465)(2.13,.465)(2.21,.465)(2.29,.465)(1.75,.45)(1.83,.45)(1.91,.45)(2,.45)(2.09,.45)(2.17,.45)(2.25,.45)(1.71,.435)(1.79,.435)(1.87,.435)(1.96,.435)(2.04,.435)(2.13,.435)(2.21,.435)(2.29,.435)(1.75,.42)(1.83,.42)(1.91,.42)(2,.42)(2.09,.42)(2.17,.42)(2.25,.42)(1.79,.405)(1.87,.405)(1.96,.405)(2.04,.405)(2.13,.405)(2.21,.405)(1.75,.39)(1.83,.39)(1.91,.39)(2,.39)(2.09,.39)(2.17,.39)(2.25,.39)(1.79,.375)(1.87,.375)(1.96,.375)(2.04,.375)(2.13,.375)(2.21,.375)(1.75,.36)(1.83,.36)(1.91,.36)(2,.36)(2.09,.36)(2.17,.36)(2.25,.36)(1.79,.345)(1.87,.345)(1.96,.345)(2.04,.345)(2.13,.345)(2.21,.345)(1.75,.33)(1.83,.33)(1.91,.33)(2,.33)(2.09,.33)(2.17,.33)(2.25,.33)(1.79,.315)(1.87,.315)(1.96,.315)(2.04,.315)(2.13,.315)(2.21,.315)(1.83,.30)(1.91,.30)(2,.30)(2.09,.30)(2.17,.30)(1.79,.285)(1.87,.285)(1.96,.285)(2.04,.285)(2.13,.285)(2.21,.285)(1.83,.27)(1.91,.27)(2,.27)(2.09,.27)(2.17,.27)(1.79,.255)(1.87,.255)(1.96,.255)(2.04,.255)(2.13,.255)(2.21,.255)(1.83,.24)(1.91,.24)(2,.24)(2.09,.24)(2.17,.24)(1.87,.225)(1.96,.225)(2.04,.225)(2.13,.225)(1.91,.21)(2,.21)(2.09,.21)(1.87,.195)(1.96,.195)(2.04,.195)(2.13,.195)(1.91,.18)(2,.18)(2.09,.18)(1.96,.165)(2.04,.165)(2,.15)(2,.135)(2,.115)(2,.095)};
\addplot[sc, color=gporange, mark size=1.35pt] coordinates {(3,.88)(3,.805)(3.02,.785)(2.97,.765)(3.04,.765)(2.93,.745)(3.04,.745)(2.97,.73)(3.06,.73)(2.87,.715)(2.96,.715)(3.04,.715)(3.13,.715)(2.91,.70)(3,.70)(3.09,.70)(2.83,.685)(2.91,.685)(3,.685)(3.09,.685)(3.17,.685)(2.87,.67)(2.96,.67)(3.04,.67)(3.13,.67)(2.83,.655)(2.91,.655)(3,.655)(3.09,.655)(3.17,.655)(2.87,.64)(2.96,.64)(3.04,.64)(3.13,.64)(2.83,.625)(2.91,.625)(3,.625)(3.09,.625)(3.17,.625)(2.87,.61)(2.96,.61)(3.04,.61)(3.13,.61)(3.21,.61)(2.79,.595)(2.91,.595)(3,.595)(3.09,.595)(3.17,.595)(2.79,.58)(2.87,.58)(2.96,.58)(3.04,.58)(3.13,.58)(3.21,.58)(2.83,.565)(2.91,.565)(3,.565)(3.09,.565)(3.17,.565)(3.25,.565)(2.79,.55)(2.87,.55)(2.96,.55)(3.04,.55)(3.13,.55)(3.21,.55)(2.83,.535)(2.91,.535)(3,.535)(3.09,.535)(3.17,.535)(3.25,.535)(2.79,.52)(2.87,.52)(2.96,.52)(3.04,.52)(3.13,.52)(3.21,.52)(2.83,.505)(2.91,.505)(3,.505)(3.09,.505)(3.17,.505)(2.75,.49)(2.83,.49)(2.91,.49)(3,.49)(3.09,.49)(3.17,.49)(3.25,.49)(2.71,.475)(2.79,.475)(2.87,.475)(2.96,.475)(3.04,.475)(3.13,.475)(3.21,.475)(3.29,.475)(2.75,.46)(2.83,.46)(2.91,.46)(3,.46)(3.09,.46)(3.17,.46)(3.25,.46)(2.71,.445)(2.79,.445)(2.87,.445)(2.96,.445)(3.04,.445)(3.13,.445)(3.21,.445)(3.29,.445)(2.75,.43)(2.83,.43)(2.91,.43)(3,.43)(3.09,.43)(3.17,.43)(3.25,.43)(2.79,.415)(2.87,.415)(2.96,.415)(3.04,.415)(3.13,.415)(3.21,.415)(2.75,.40)(2.83,.40)(2.91,.40)(3,.40)(3.09,.40)(3.17,.40)(3.25,.40)(2.79,.385)(2.87,.385)(2.96,.385)(3.04,.385)(3.13,.385)(3.21,.385)(2.75,.37)(2.83,.37)(2.91,.37)(3,.37)(3.09,.37)(3.17,.37)(2.79,.355)(2.87,.355)(2.96,.355)(3.04,.355)(3.13,.355)(3.21,.355)(2.83,.34)(2.91,.34)(3,.34)(3.09,.34)(3.17,.34)(2.79,.325)(2.87,.325)(2.96,.325)(3.04,.325)(3.13,.325)(2.83,.31)(2.91,.31)(3,.31)(3.09,.31)(3.17,.31)(2.79,.295)(2.87,.295)(2.96,.295)(3.04,.295)(3.13,.295)(3.21,.295)(2.83,.28)(2.91,.28)(3,.28)(3.09,.28)(3.17,.28)(2.79,.265)(2.87,.265)(2.96,.265)(3.04,.265)(3.13,.265)(3.21,.265)(2.83,.25)(2.91,.25)(3,.25)(3.09,.25)(3.17,.25)(2.79,.235)(2.87,.235)(2.96,.235)(3.04,.235)(3.13,.235)(2.83,.22)(2.91,.22)(3,.22)(3.09,.22)(3.17,.22)(2.87,.205)(2.96,.205)(3.04,.205)(3.13,.205)(2.91,.19)(3,.19)(3.09,.19)(2.96,.175)(3.04,.175)(2.92,.16)(3,.16)(3.08,.16)(2.96,.145)(3.04,.145)(3,.13)(3,.065)};
\addplot[sc, color=gpred, mark size=1.35pt] coordinates {(4,.677)(3.89,.545)(4.1,.551)(3.89,.522)(4.1,.526)(3.73,.487)(4,.494)(4.3,.478)(3.89,.453)(4.1,.445)(4,.417)(3.89,.372)(4.1,.372)(4,.333)(3.89,.32)(4.1,.314)(3.73,.288)(3.92,.269)(4.1,.256)(4.3,.276)(4,.199)};
\addplot[ebt] coordinates {(.67,.385)(1.33,.385)};
\addplot[ebt] coordinates {(.835,.586)(1.165,.586)(1,.586)(1,.288)(.835,.288)(1.165,.288)};
\addplot[ebt] coordinates {(1.67,.445)(2.33,.445)};
\addplot[ebt] coordinates {(1.835,.567)(2.165,.567)(2,.567)(2,.318)(1.835,.318)(2.165,.318)};
\addplot[ebt] coordinates {(2.67,.449)(3.33,.449)};
\addplot[ebt] coordinates {(2.835,.549)(3.165,.549)(3,.549)(3,.342)(2.835,.342)(3.165,.342)};
\addplot[ebt] coordinates {(3.67,.408)(4.33,.408)};
\addplot[ebt] coordinates {(3.835,.499)(4.165,.499)(4,.499)(4,.305)(3.835,.305)(4.165,.305)};
\addplot[sig] coordinates {(0.918,1.481)(4.097,1.481)};
\node[pt, anchor=south west] at (axis cs:0.934,1.481) {p=0.5477};
\addplot[sig] coordinates {(0.918,1.385)(2.878,1.385)};
\node[pt, anchor=south west] at (axis cs:0.984,1.385) {p=0.8518};
\addplot[sig] coordinates {(1.956,1.296)(4.097,1.296)};
\node[pt, anchor=south east] at (axis cs:4.13,1.296) {p=0.4567};
\addplot[sig] coordinates {(3.026,1.204)(4.064,1.204)};
\node[pt, anchor=south] at (axis cs:3.595,1.204) {p=0.3079};
\addplot[sig] coordinates {(1.988,1.123)(3.026,1.123)};
\node[pt, anchor=south] at (axis cs:2.582,1.123) {p=0.7614};
\addplot[sig] coordinates {(0.901,1.046)(1.956,1.046)};
\node[pt, anchor=south] at (axis cs:1.478,1.046) {p=0.8198};
\end{axis}
% ---------------- texts ----------------
\begin{scope}[every node/.style={inner sep=0pt}]
\node[anchor=base west, font=\bfseries\fs{11.5}] at (0.5pt,414pt) {A};
\node[anchor=base west, font=\bfseries\fs{11.5}] at (290pt,413.5pt) {B};
\node[anchor=base west, font=\bfseries\fs{11.5}] at (550pt,414pt) {C};
\node[anchor=base west, font=\bfseries\fs{11.5}] at (1pt,233pt) {D};
\node[anchor=base west, font=\bfseries\fs{11.5}] at (290.5pt,233pt) {E};
\node[anchor=base west, font=\bfseries\fs{11.5}] at (549.5pt,233.5pt) {F};
\node[anchor=base, font=\bfseries\fs{11.5}] at (82.5pt,398.5pt) {p16};
\node[anchor=base, font=\bfseries\fs{11.5}] at (376.5pt,398pt) {HPV ISH};
\node[anchor=base, font=\bfseries\fs{11.5}] at (653.5pt,401.5pt) {HPV PanCancer seq};
\node[anchor=base west, font=\fs{9.6}] at (148.5pt,294.5pt) {p <0.0001};
\node[anchor=base west, font=\fs{9.6}] at (436.5pt,295pt) {p <0.0001};
\node[anchor=base west, font=\fs{9.6}] at (691.5pt,296.5pt) {p <0.0001};
\end{scope}
\end{tikzpicture}
\end{document}
